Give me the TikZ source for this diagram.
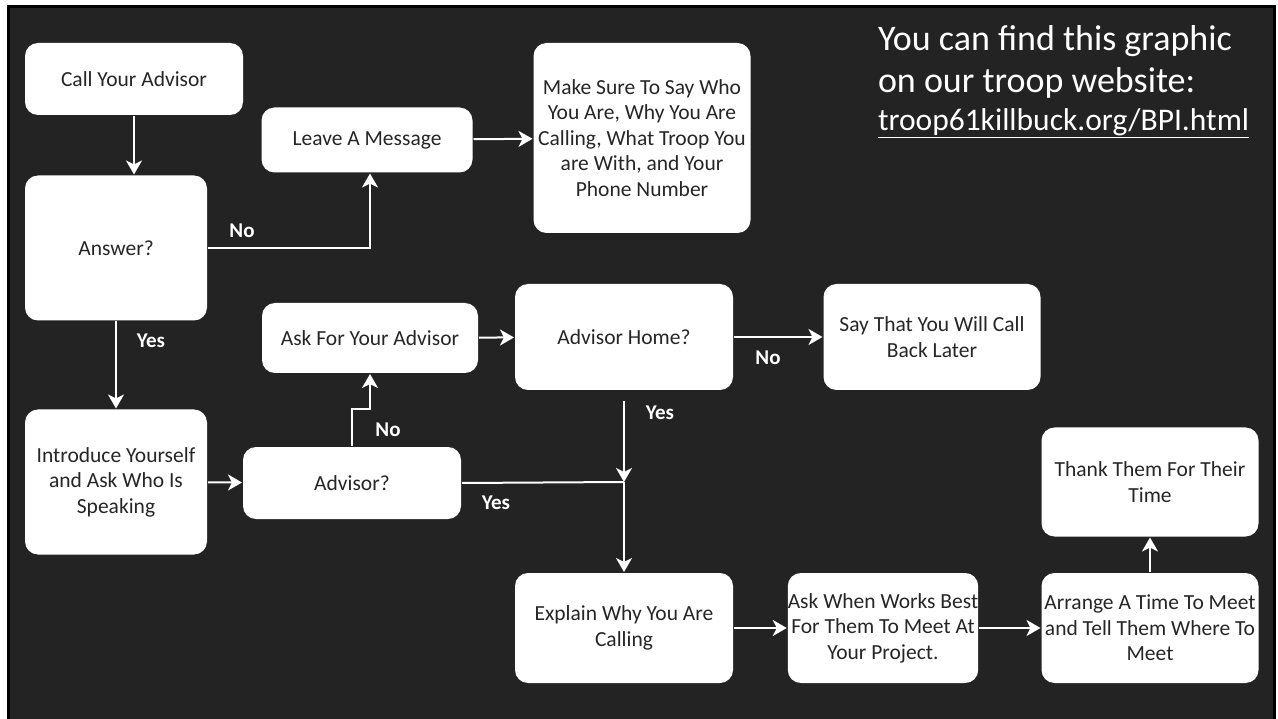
\documentclass[tikz,border=0pt]{standalone}
\usepackage{fontspec}
\setmainfont{Carlito}
\usetikzlibrary{arrows.meta}
\definecolor{slide}{HTML}{232323}
\definecolor{boxtext}{HTML}{262626}

\begin{document}
\begin{tikzpicture}[
                x=1pt,y=-1pt,
                line width=2pt,
                Box/.style={fill=white,rounded corners=13pt,align=center,text=boxtext,
                            font=\fontsize{21.5}{25.5}\selectfont,inner sep=0pt},
                Label/.style={text=white,font=\fontsize{21}{25.5}\selectfont\bfseries},
                Flow/.style={-{Stealth[length=14pt,width=16pt,inset=4pt]},draw=white}]

% slide
\useasboundingbox (0,0) rectangle (1278,719);
\fill[white] (0,0) rectangle (1278,719);
\fill[slide] (7,5) rectangle (1276,719);
\draw[black,line width=3pt] (8.5,719) -- (8.5,6.5) -- (1274.5,6.5) -- (1274.5,719);

                    % first call
                    \node[Box,minimum width=218pt,minimum height=72pt] (CallAdvisor) at (134,79) {Call Your Advisor}; % 1
                    \node[Box,minimum width=182pt,minimum height=145pt] (Answer) at (116,248) {Answer?}; % 2
                    \node[Box,minimum width=211pt,minimum height=65pt] (LeaveMsg) at (367,140) {Leave A Message}; % 3
                    \node[Box,minimum width=217pt,minimum height=190pt] (MakeSure) at (642,138)
                        {Make Sure To Say Who\\You Are, Why You Are\\Calling, What Troop You\\are With, and Your\\Phone Number}; % 4

                    \draw[Flow] (CallAdvisor.south) -- (CallAdvisor.south |- Answer.north);
                    \draw[Flow] (Answer.east) -| ([xshift=3pt]LeaveMsg.south);
                    \draw[Flow] (LeaveMsg) to (MakeSure);

                    \node[Label] (NoA) at (242,231) {No};
                    \node[Label] (YesA) at (151,341) {Yes};


                    % someone answers
                    \node[Box,minimum width=182pt,minimum height=145pt] (Introduce) at (116,482)
                        {Introduce Yourself\\and Ask Who Is\\Speaking}; % 1
                    \node[Box,minimum width=218pt,minimum height=72pt] (AdvisorQ) at (352,483) {Advisor?}; % 2
                    \node[Box,minimum width=216pt,minimum height=70pt] (AskFor) at (370,338) {Ask For Your Advisor}; % 3
                    \node[Box,minimum width=218pt,minimum height=106pt] (AdvHome) at (624,337) {Advisor Home?}; % 4
                    \node[Box,minimum width=217pt,minimum height=106pt] (CallBack) at (932,337)
                        {Say That You Will Call\\Back Later}; % 5
                    \coordinate (Meet) at (624,482);

                    \draw[Flow] (Answer) to (Introduce);
                    \draw[Flow] (Introduce) to (AdvisorQ);
                    \draw[Flow] (AdvisorQ.north) -- ++(0,-37) -| (AskFor.south);
                    \draw[Flow] (AskFor) to (AdvHome);
                    \draw[Flow] (AdvHome) to (CallBack);
                    \draw[Flow,shorten <=10pt] (AdvHome.south) to (Meet);
                    \draw[draw=white] (AdvisorQ.east) -- (Meet);

                    \node[Label] (NoB) at (388,430) {No};
                    \node[Label] (YesB) at (496,503) {Yes};
                    \node[Label] (NoC) at (768,358) {No};
                    \node[Label] (YesC) at (660,413) {Yes};


 % meeting
                    \node[Box,minimum width=218pt,minimum height=110pt] (Explain) at (624,628)
                        {Explain Why You Are\\Calling}; % 1
                    \node[Box,minimum width=190pt,minimum height=110pt] (AskWhen) at (883,628)
                        {Ask When Works Best\\For Them To Meet At\\Your Project.}; % 2
                    \node[Box,minimum width=217pt,minimum height=110pt] (Arrange) at (1150,628)
                        {Arrange A Time To Meet\\and Tell Them Where To\\Meet}; % 3
                    \node[Box,minimum width=217pt,minimum height=109pt] (Thank) at (1150,482)
                        {Thank Them For Their\\Time}; % 4

                    \draw[Flow] (Meet) to (Explain);
                    \draw[Flow] (Explain) to (AskWhen);
                    \draw[Flow] (AskWhen) to (Arrange);
                    \draw[Flow] (Arrange) to (Thank);


 % website note
                    \node[anchor=north west,align=left,text=white,inner sep=0pt,
                          font=\fontsize{36}{42}\selectfont] (Website) at (877,25)
                        {You can find this graphic\\on our troop website:};
                    \node[anchor=north west,text=white,inner sep=0pt,
                          font=\fontsize{31.5}{36}\selectfont] (WebLink) at (877,108)
                        {\underline{troop61killbuck.org/BPI.html}};

\end{tikzpicture}
\end{document}
